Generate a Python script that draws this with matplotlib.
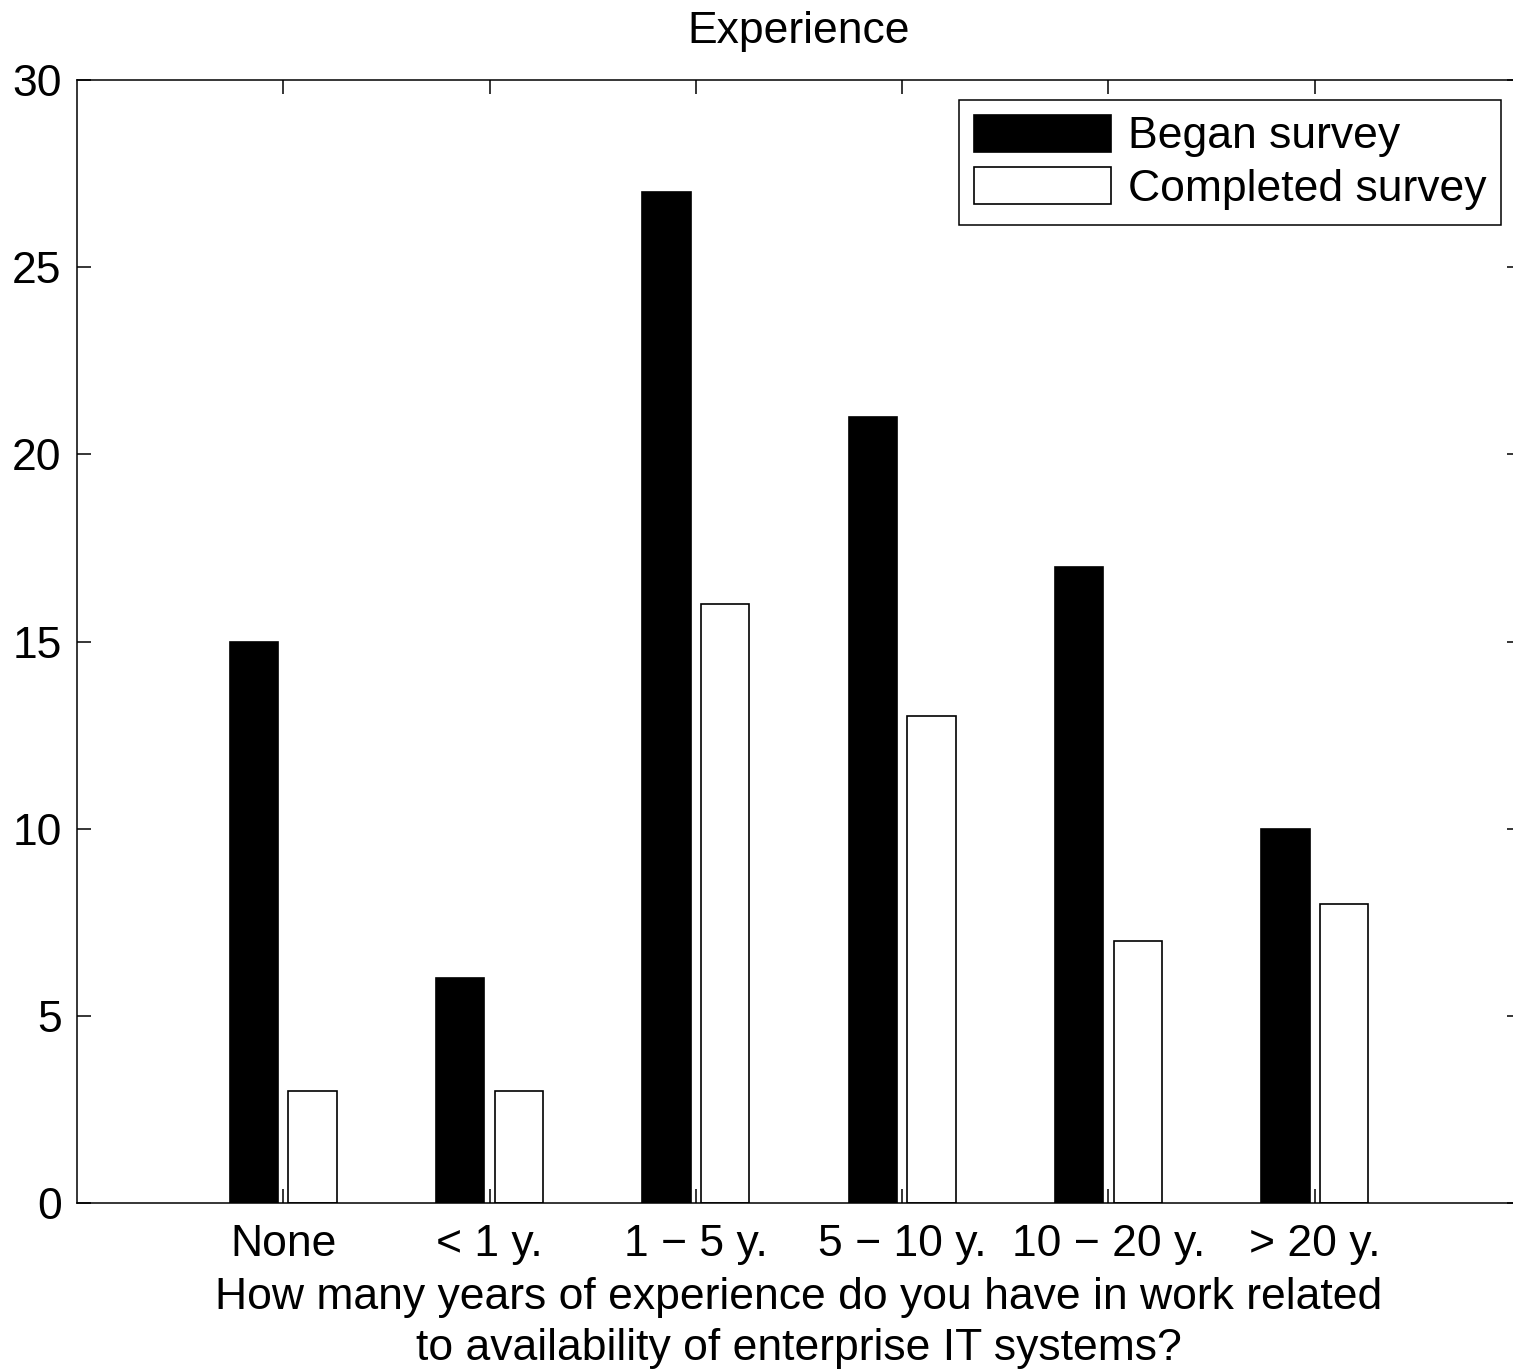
import numpy as np
import matplotlib
matplotlib.use("Agg")
import matplotlib.pyplot as plt

categories = ["None", "< 1 y.", "1 \u2212 5 y.", "5 \u2212 10 y.", "10 \u2212 20 y.", "> 20 y."]
began = [15, 6, 27, 21, 17, 10]
completed = [3, 3, 16, 13, 7, 8]

plt.rcParams['font.family'] = ['Liberation Sans', 'DejaVu Sans']
FS = 32

fig = plt.figure(figsize=(15.13, 13.69), dpi=100)
# axes run slightly past the right edge like the original export
ax = fig.add_axes([77 / 1513, 166 / 1369, (1521 - 77) / 1513, (1203 - 80) / 1369])

x = np.arange(1, len(categories) + 1)
w = 0.235
off = 0.1425
ax.bar(x - off, began, w, color='black', edgecolor='black', linewidth=1.2, label='Began survey')
ax.bar(x + off, completed, w, color='white', edgecolor='black', linewidth=1.2, label='Completed survey')

ax.set_xlim(0, 7)
ax.set_ylim(0, 30)
ax.set_xticks(x)
ax.set_xticklabels(categories)
ax.set_yticks(np.arange(0, 31, 5))

ax.tick_params(direction='in', length=10, width=1.1, labelsize=FS,
               top=True, right=True, colors='black')
ax.tick_params(axis='x', pad=15)
ax.tick_params(axis='y', pad=11)
for s in ax.spines.values():
    s.set_linewidth(1.1)

ax.set_title('Experience', fontsize=FS, pad=27)
ax.set_xlabel('How many years of experience do you have in work related\n'
              'to availability of enterprise IT systems?', fontsize=FS, labelpad=9,
              linespacing=1.3)

leg = ax.legend(loc='upper right', fontsize=FS, handlelength=3.1, handleheight=0.9,
                labelspacing=0.22, borderpad=0.33, handletextpad=0.37,
                borderaxespad=0.45, fancybox=False, framealpha=1)
leg.get_frame().set_edgecolor('black')
leg.get_frame().set_linewidth(1.1)

fig.savefig('out.png', dpi=100)
